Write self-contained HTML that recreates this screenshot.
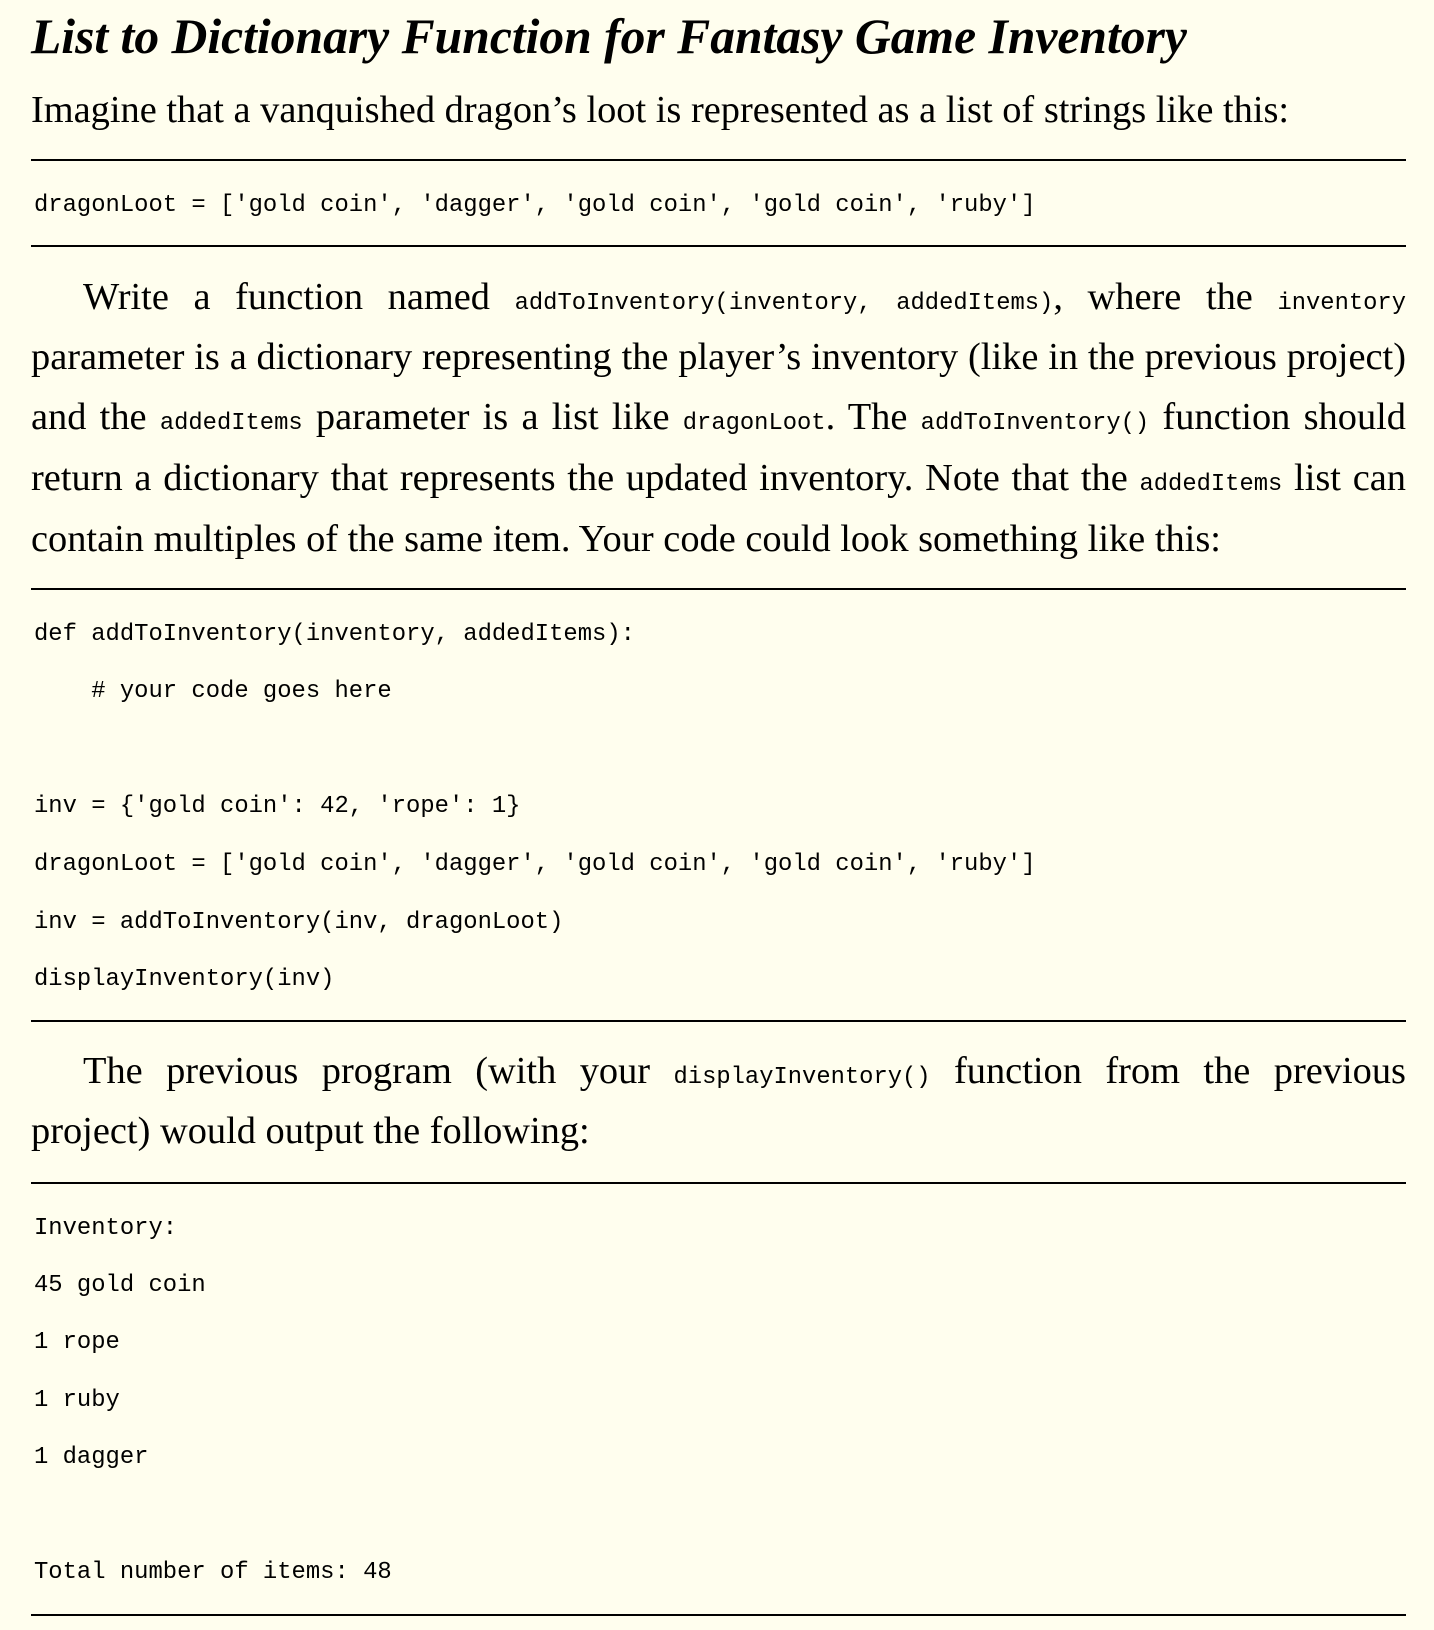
<!DOCTYPE html>
<html><head><meta charset="utf-8"><style>
html,body{margin:0;padding:0;background:#fffeee;}
body{width:1434px;height:1630px;position:relative;overflow:hidden;color:#000;}
.l{position:absolute;left:31px;width:1375px;white-space:nowrap;font-family:"Liberation Serif",serif;font-size:38.4px;height:60px;line-height:60px;}
.j{text-align:justify;text-align-last:justify;white-space:normal;}
.c{position:absolute;left:34px;font-family:"Liberation Mono",monospace;font-size:23.85px;height:40px;line-height:40px;white-space:pre;}
code{font-family:"Liberation Mono",monospace;font-size:23.8px;}
.r{position:absolute;left:31px;width:1375px;height:2px;background:#000;}
h1{position:absolute;left:31px;top:7px;margin:0;font-family:"Liberation Serif",serif;font-style:italic;font-weight:bold;font-size:49.6px;line-height:60px;white-space:nowrap;}
</style></head><body>
<h1>List to Dictionary Function for Fantasy Game Inventory</h1>
<div class="l" style="top:80px">Imagine that a vanquished dragon’s loot is represented as a list of strings like this:</div>
<div class="r" style="top:159px"></div>
<div class="c" style="top:186px">dragonLoot = ['gold coin', 'dagger', 'gold coin', 'gold coin', 'ruby']</div>
<div class="r" style="top:245px"></div>

<div class="l j" style="top:267px;left:83px;width:1323px">Write a function named <code>addToInventory(inventory,</code> <code>addedItems)</code>, where the <code>inventory</code></div>
<div class="l j" style="top:327px">parameter is a dictionary representing the player’s inventory (like in the previous project)</div>
<div class="l j" style="top:387px">and the <code>addedItems</code> parameter is a list like <code>dragonLoot</code>. The <code>addToInventory()</code> function should</div>
<div class="l j" style="top:448px">return a dictionary that represents the updated inventory. Note that the <code>addedItems</code> list can</div>
<div class="l" style="top:509px">contain multiples of the same item. Your code could look something like this:</div>
<div class="r" style="top:588px"></div>
<div class="c" style="top:615px">def addToInventory(inventory, addedItems):</div>
<div class="c" style="top:672px">    # your code goes here</div>
<div class="c" style="top:787px">inv = {'gold coin': 42, 'rope': 1}</div>
<div class="c" style="top:845px">dragonLoot = ['gold coin', 'dagger', 'gold coin', 'gold coin', 'ruby']</div>
<div class="c" style="top:903px">inv = addToInventory(inv, dragonLoot)</div>
<div class="c" style="top:960px">displayInventory(inv)</div>
<div class="r" style="top:1020px"></div>
<div class="l j" style="top:1041px;left:83px;width:1323px">The previous program (with your <code>displayInventory()</code> function from the previous</div>
<div class="l" style="top:1101px">project) would output the following:</div>
<div class="r" style="top:1182px"></div>
<div class="c" style="top:1209px">Inventory:</div>
<div class="c" style="top:1266px">45 gold coin</div>
<div class="c" style="top:1323px">1 rope</div>
<div class="c" style="top:1381px">1 ruby</div>
<div class="c" style="top:1438px">1 dagger</div>
<div class="c" style="top:1553px">Total number of items: 48</div>
<div class="r" style="top:1614px"></div>
</body></html>
